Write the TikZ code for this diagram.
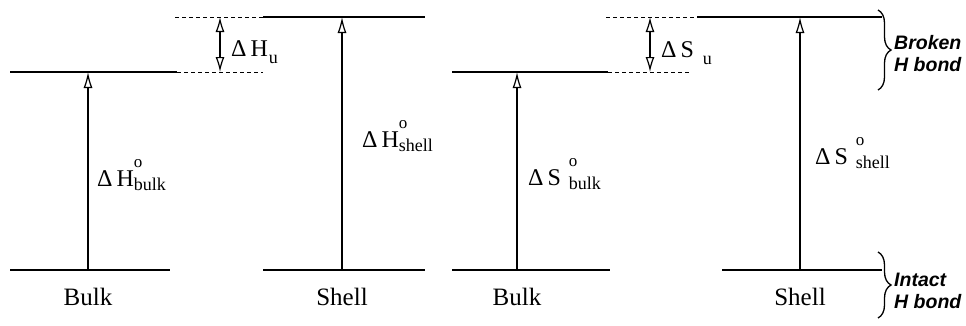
\documentclass[tikz,border=0pt]{standalone}
\usepackage{fontspec}
\setmainfont{Liberation Serif}
\newfontfamily\bondfont{Liberation Sans}
\usepackage{tikz}
\usetikzlibrary{arrows.meta,positioning,calc,decorations.pathreplacing}

% Delta symbol with superscript o and subscript
\newcommand{\stdlab}[3]{Δ\hspace{4pt}#1\hspace{#2}\makebox[0pt][l]{\raisebox{19pt}{\fontsize{17}{17}\selectfont o}}\raisebox{-4pt}{\fontsize{18}{18}\selectfont #3}}
\newcommand{\unflab}[2]{Δ\hspace{4pt}#1\hspace{#2}\raisebox{-7pt}{\fontsize{18}{18}\selectfont u}}

\begin{document}
\begin{tikzpicture}[
  x=1pt, y=-1pt,
  font=\fontsize{25}{30}\selectfont,
  levelline/.style={line width=2.6pt},
  gapline/.style={dash pattern=on 4pt off 3pt, line width=0.8pt},
  riseup/.style={-{Latex[open,length=16pt,width=9pt]}, line width=1.2pt},
  gapspan/.style={{Latex[open,length=15pt,width=9pt]}-{Latex[open,length=15pt,width=9pt]}, line width=1.2pt},
  labtext/.style={font=\fontsize{24}{28}\selectfont, anchor=base west, inner sep=0pt},
  statename/.style={anchor=base, inner sep=0pt},
  bondbrace/.style={decorate, decoration={brace, amplitude=13pt}, line width=1.3pt},
  bondtext/.style={font=\bondfont\bfseries\itshape\fontsize{19.5}{22}\selectfont, align=left, anchor=west, inner sep=0pt},
]
\useasboundingbox (0,0) rectangle (966,325);

% enthalpy, bulk
\coordinate (hb-lo-w) at (10,270);  \coordinate (hb-lo-e) at (170,270);
\coordinate (hb-hi-w) at (10,72);   \coordinate (hb-hi-e) at (177,72);
\coordinate (hb-lo) at (88,270);    \coordinate (hb-hi) at (88,72);
% enthalpy, shell
\coordinate (hs-lo-w) at (263,270); \coordinate (hs-lo-e) at (425,270);
\coordinate (hs-hi-w) at (263,17);  \coordinate (hs-hi-e) at (425,17);
\coordinate (hs-lo) at (342,270);   \coordinate (hs-hi) at (342,17);
% entropy, bulk
\coordinate (sb-lo-w) at (452,270); \coordinate (sb-lo-e) at (610,270);
\coordinate (sb-hi-w) at (452,72);  \coordinate (sb-hi-e) at (608,72);
\coordinate (sb-lo) at (517,270);   \coordinate (sb-hi) at (517,72);
% entropy, shell
\coordinate (ss-lo-w) at (722,270); \coordinate (ss-lo-e) at (882,270);
\coordinate (ss-hi-w) at (697,17);  \coordinate (ss-hi-e) at (882,17);
\coordinate (ss-lo) at (800,270);   \coordinate (ss-hi) at (800,17);
% gap markers
\coordinate (hu-top-w) at (175,17); \coordinate (hu-top) at (220,17);
\coordinate (hu-bot) at (220,72);
\coordinate (su-top-w) at (606,17); \coordinate (su-bot-e) at (690,72);
\coordinate (su-top) at (650,17);   \coordinate (su-bot) at (650,72);

\draw[levelline] (hb-lo-w) -- (hb-lo-e);
\draw[levelline] (hb-hi-w) -- (hb-hi-e);
\draw[levelline] (hs-lo-w) -- (hs-lo-e);
\draw[levelline] (hs-hi-w) -- (hs-hi-e);
\draw[levelline] (sb-lo-w) -- (sb-lo-e);
\draw[levelline] (sb-hi-w) -- (sb-hi-e);
\draw[levelline] (ss-lo-w) -- (ss-lo-e);
\draw[levelline] (ss-hi-w) -- (ss-hi-e);

\draw[gapline] (hu-top-w) -- (hs-hi-w);
\draw[gapline] (hb-hi-e) -- (hs-hi-w |- hb-hi-e);
\draw[gapline] (su-top-w) -- (ss-hi-w);
\draw[gapline] (sb-hi-e) -- (su-bot-e);

\draw[riseup] (hb-lo) -- (hb-hi);
\draw[riseup] (hs-lo) -- (hs-hi);
\draw[riseup] (sb-lo) -- (sb-hi);
\draw[riseup] (ss-lo) -- (ss-hi);
\draw[gapspan] (hu-top) -- (hu-bot);
\draw[gapspan] (su-top) -- (su-bot);

\node[labtext] (hb-lab) at (97,186) {\stdlab{H}{0pt}{bulk}};
\node[labtext] (hs-lab) at (362,147) {\stdlab{H}{0pt}{shell}};
\node[labtext] (sb-lab) at (528,185) {\stdlab{S}{8pt}{bulk}};
\node[labtext] (ss-lab) at (815,164) {\stdlab{S}{8pt}{shell}};
\node[labtext] (hu-lab) at (231,56) {\unflab{H}{1pt}};
\node[labtext] (su-lab) at (661,57) {\unflab{S}{9pt}};

\node[statename] (hb-name) at (88,305) {Bulk};
\node[statename] (hs-name) at (342,305) {Shell};
\node[statename] (sb-name) at (517,305) {Bulk};
\node[statename] (ss-name) at (800,305) {Shell};

\coordinate (brk-top) at (878,10);  \coordinate (brk-bot) at (878,90);
\coordinate (int-top) at (878,252); \coordinate (int-bot) at (878,318);
\draw[bondbrace] (brk-top) -- (brk-bot);
\draw[bondbrace] (int-top) -- (int-bot);
\node[bondtext] (brk-lab) at (894,54) {Broken\\H bond};
\node[bondtext] (int-lab) at (894,291) {Intact\\H bond};
\end{tikzpicture}
\end{document}
